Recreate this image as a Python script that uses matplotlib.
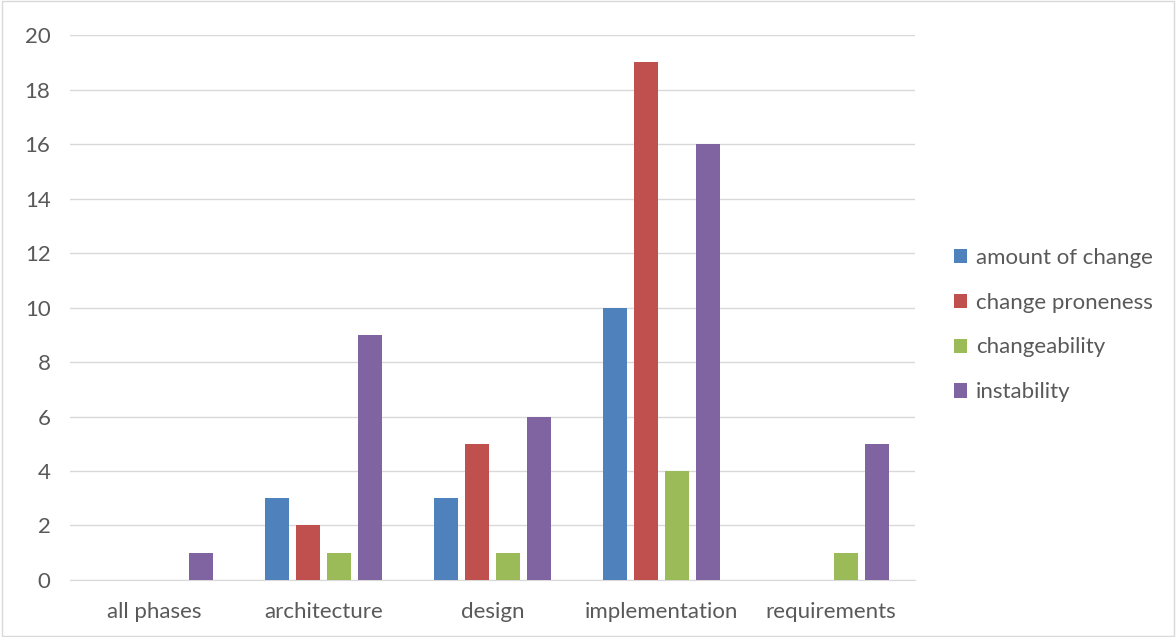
import matplotlib
matplotlib.use("Agg")
import matplotlib.pyplot as plt
import numpy as np
from matplotlib.patches import Rectangle

categories = ["all phases", "architecture", "design", "implementation", "requirements"]
series_names = ["amount of change", "change proneness", "changeability", "instability"]
amount_of_change = [0, 3, 3, 10, 0]
change_proneness = [0, 2, 5, 19, 0]
changeability = [0, 1, 1, 4, 1]
instability = [1, 9, 6, 16, 5]
colors = ["#4F81BD", "#C0504D", "#9BBB59", "#8064A2"]
yticks = [0, 2, 4, 6, 8, 10, 12, 14, 16, 18, 20]

plt.rcParams['font.family'] = ['Lato', 'DejaVu Sans']

fig = plt.figure(figsize=(11.76, 6.37), dpi=100)
fig.patches.append(Rectangle((0.002, 0.002), 0.996, 0.996, transform=fig.transFigure,
                             fill=False, edgecolor="#D9D9D9", linewidth=1))
ax = fig.add_axes([0.0595, 0.0895, 0.7185, 0.8555])

x = np.arange(len(categories))
width = 0.142
step = 0.183
data = [amount_of_change, change_proneness, changeability, instability]
for i, (name, vals, c) in enumerate(zip(series_names, data, colors)):
    ax.bar(x + (i - 1.5) * step, vals, width, color=c, label=name, zorder=3)

ax.set_xlim(-0.5, len(categories) - 0.5)
ax.set_ylim(0, 20)
ax.set_yticks(yticks)
ax.set_xticks(x)
ax.set_xticklabels(categories)
ax.grid(axis='y', color="#D9D9D9", linewidth=1, zorder=0)
for s in ["top", "right", "left"]:
    ax.spines[s].set_visible(False)
ax.spines["bottom"].set_color("#D9D9D9")
ax.tick_params(axis='both', length=0, colors="#595959", labelsize=16)
ax.tick_params(axis='x', pad=16)
ax.tick_params(axis='y', pad=14)

leg = ax.legend(loc='center left', bbox_to_anchor=(1.022, 0.468), frameon=False,
                fontsize=16, handlelength=0.6, handleheight=0.6, handletextpad=0.4,
                labelspacing=1.12, labelcolor="#595959")
fig.savefig("out.png", dpi=100)
